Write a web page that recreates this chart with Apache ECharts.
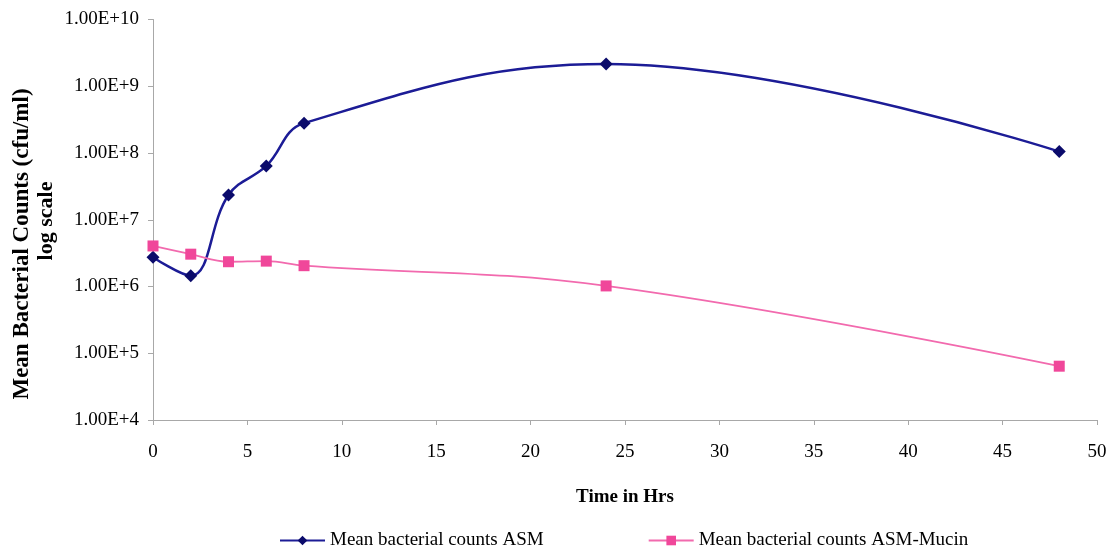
<!DOCTYPE html>
<html><head><meta charset="utf-8">
<script src="https://cdn.jsdelivr.net/npm/echarts@6/dist/echarts.min.js"></script>
<style>html,body{margin:0;padding:0;background:#fff}#c{width:1119px;height:553px}</style>
</head><body><div id="c"></div>
<script>
const hours = [0, 2, 4, 6, 8, 24, 48];
const asm = [2.75e6, 1.45e6, 2.35e7, 6.4e7, 2.8e8, 2.15e9, 1.05e8];
const asmMucin = [4.05e6, 3.05e6, 2.35e6, 2.4e6, 2.05e6, 1.02e6, 6.4e4];
const seriesNames = ['Mean bacterial counts ASM', 'Mean bacterial counts ASM-Mucin'];
const xTitle = 'Time in Hrs';
const yTitle1 = 'Mean Bacterial Counts (cfu/ml)';
const yTitle2 = 'log scale';

const font = '"Liberation Serif", "Times New Roman", serif';
const chart = echarts.init(document.getElementById('c'));
chart.setOption({
  backgroundColor: '#ffffff',
  animation: false,
  grid: { left: 153, right: 22, top: 19.5, bottom: 133, containLabel: false },
  legend: {
    left: 274, top: 526, itemWidth: 45, itemHeight: 12, itemGap: 104,
    textStyle: { fontFamily: font, fontSize: 19, color: '#000' },
    data: seriesNames
  },
  xAxis: {
    type: 'value', min: 0, max: 50, interval: 5,
    name: xTitle, nameLocation: 'middle', nameGap: 68,
    nameTextStyle: { fontFamily: font, fontSize: 19, fontWeight: 'bold', color: '#000' },
    axisLine: { lineStyle: { color: '#a8a8a8', width: 1 } },
    axisTick: { show: true, inside: false, length: 5, lineStyle: { color: '#a8a8a8' } },
    axisLabel: { fontFamily: font, fontSize: 19, color: '#000', margin: 23 },
    splitLine: { show: false }
  },
  yAxis: {
    type: 'log', logBase: 10, min: 1e4, max: 1e10,
    axisLine: { show: true, lineStyle: { color: '#a8a8a8', width: 1 } },
    axisTick: { show: true, inside: false, length: 5, lineStyle: { color: '#a8a8a8' } },
    axisLabel: {
      fontFamily: font, fontSize: 19, color: '#000', margin: 14,
      formatter: v => Number(v).toExponential(2).toUpperCase()
    },
    splitLine: { show: false }
  },
  graphic: [
    { type: 'text', x: 22, y: 244, rotation: Math.PI / 2,
      style: { text: yTitle1, fontFamily: font, fontSize: 23, fontWeight: 'bold', fill: '#000',
               align: 'center', verticalAlign: 'middle' } },
    { type: 'text', x: 46, y: 221, rotation: Math.PI / 2,
      style: { text: yTitle2, fontFamily: font, fontSize: 22, fontWeight: 'bold', fill: '#000',
               align: 'center', verticalAlign: 'middle' } }
  ],
  series: [
    {
      name: seriesNames[0], type: 'line', smooth: 0.4,
      data: hours.map((h, i) => [h, asm[i]]),
      symbol: 'diamond', symbolSize: 13,
      lineStyle: { color: '#1c1c96', width: 2.5 },
      itemStyle: { color: '#0b0b6b' }
    },
    {
      name: seriesNames[1], type: 'line', smooth: 0.4,
      data: hours.map((h, i) => [h, asmMucin[i]]),
      symbol: 'rect', symbolSize: 11,
      lineStyle: { color: '#f26aae', width: 1.8 },
      itemStyle: { color: '#f0479a' }
    }
  ]
});
</script></body></html>
